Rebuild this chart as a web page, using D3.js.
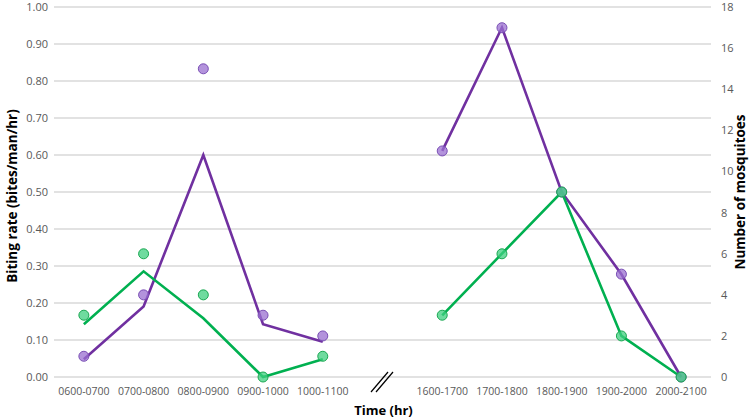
<!DOCTYPE html>
<html>
<head>
<meta charset="utf-8">
<script src="https://cdn.jsdelivr.net/npm/d3@7"></script>
<style>
  body { margin: 0; background: #fff; }
  svg { display: block; }
</style>
</head>
<body>
<svg id="chart" width="755" height="420"></svg>
<script>
// ---- data ----
const categories = ["0600-0700","0700-0800","0800-0900","0900-1000","1000-1100","",
                    "1600-1700","1700-1800","1800-1900","1900-2000","2000-2100"];
// biting rate (left axis) – markers
const purpleRate = [0.056, 0.222, 0.833, 0.167, 0.111, null, 0.611, 0.944, 0.500, 0.278, 0.000];
const greenRate  = [0.167, 0.333, 0.222, 0.000, 0.056, null, 0.167, 0.333, 0.500, 0.111, 0.000];
// number of mosquitoes (right axis) – lines
const purpleCount = [0.86, 3.43, 10.8, 2.57, 1.71, null, 11, 17, 9, 5, 0];
const greenCount  = [2.57, 5.14, 2.86, 0, 0.86, null, 3, 6, 9, 2, 0];
const leftTicks = [0,0.1,0.2,0.3,0.4,0.5,0.6,0.7,0.8,0.9,1.0];
const rightTicks = [0,2,4,6,8,10,12,14,16,18];

const purple = "#7030a0", green = "#00b050";

const svg = d3.select("#chart");
const pL = 54, pR = 711, pT = 7, pB = 377;

const x = d3.scaleBand().domain(categories).range([pL, pR]);
const yL = d3.scaleLinear().domain([0, 1]).range([pB, pT]);
const yR = d3.scaleLinear().domain([0, 18]).range([pB, pT]);

// gridlines
svg.append("g").selectAll("line").data(leftTicks).join("line")
  .attr("x1", pL).attr("x2", pR)
  .attr("y1", d => yL(d)).attr("y2", d => yL(d))
  .attr("stroke", "#d9d9d9").attr("stroke-width", 1.3);

const tickFont = "'Open Sans', sans-serif";
const tickSize = 11;

// left axis
const axL = svg.append("g").attr("transform", `translate(${pL - 6},0)`)
  .call(d3.axisLeft(yL).tickValues(leftTicks).tickFormat(d3.format(".2f")).tickSize(0).tickPadding(0));
axL.select(".domain").remove();
axL.selectAll("text").attr("font-family", tickFont).attr("font-size", tickSize).attr("fill", "#595959");

// right axis
const axR = svg.append("g").attr("transform", `translate(${pR + 10},0)`)
  .call(d3.axisRight(yR).tickValues(rightTicks).tickSize(0).tickPadding(0));
axR.select(".domain").remove();
axR.selectAll("text").attr("font-family", tickFont).attr("font-size", tickSize).attr("fill", "#595959");

// x axis
const axX = svg.append("g").attr("transform", `translate(0,${pB + 9})`)
  .call(d3.axisBottom(x).tickSize(0).tickPadding(0));
axX.select(".domain").remove();
axX.selectAll("text").attr("font-family", tickFont).attr("font-size", 10.5).attr("fill", "#595959")
  .attr("dy", "0.9em");

// axis break mark
const bx = x(categories[5]) + x.bandwidth() / 2;
[-2.5, 2.5].forEach(o => {
  svg.append("line")
    .attr("x1", bx + o - 9).attr("y1", pB + 15)
    .attr("x2", bx + o + 8).attr("y2", pB - 5)
    .attr("stroke", "#000").attr("stroke-width", 1.2);
});

// lines (right axis)
const cx = i => x(categories[i]) + x.bandwidth() / 2;
const line = d3.line().defined(d => d.v !== null).x(d => cx(d.i)).y(d => yR(d.v));
[[purpleCount, purple], [greenCount, green]].forEach(([arr, col]) => {
  svg.append("path")
    .datum(arr.map((v, i) => ({v, i})))
    .attr("d", line)
    .attr("fill", "none").attr("stroke", col).attr("stroke-width", 2.6)
    .attr("stroke-linejoin", "miter");
});

// markers (left axis)
[[purpleRate, "#9a6fd0", "#7a4fb5"], [greenRate, "#3fcf7f", "#1aa852"]].forEach(([arr, fill, stroke]) => {
  svg.append("g").selectAll("circle")
    .data(arr.map((v, i) => ({v, i})).filter(d => d.v !== null))
    .join("circle")
    .attr("cx", d => cx(d.i)).attr("cy", d => yL(d.v)).attr("r", 5)
    .attr("fill", fill).attr("fill-opacity", 0.75)
    .attr("stroke", stroke).attr("stroke-width", 1);
});

// axis titles
const titleFont = "'Open Sans', sans-serif";
svg.append("text").attr("transform", `translate(17,${(pT + pB) / 2 + 4}) rotate(-90)`)
  .attr("text-anchor", "middle").attr("font-family", titleFont).attr("font-weight", "bold")
  .attr("font-size", 13.5).attr("fill", "#000").text("Biting rate (bites/man/hr)");
svg.append("text").attr("transform", `translate(745,${(pT + pB) / 2}) rotate(-90)`)
  .attr("text-anchor", "middle").attr("font-family", titleFont).attr("font-weight", "bold")
  .attr("font-size", 13.5).attr("fill", "#000").text("Number of mosquitoes");
svg.append("text").attr("x", (pL + pR) / 2 + 1).attr("y", 415)
  .attr("text-anchor", "middle").attr("font-family", titleFont).attr("font-weight", "bold")
  .attr("font-size", 13).attr("fill", "#000").text("Time (hr)");
</script>
</body>
</html>
